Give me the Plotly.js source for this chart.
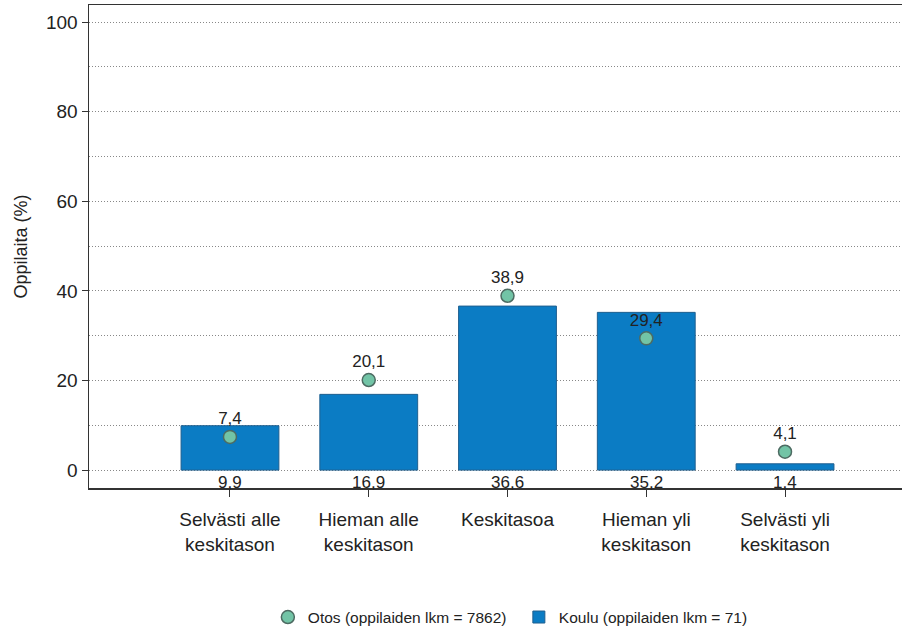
<!DOCTYPE html>
<html>
<head>
<meta charset="utf-8">
<script src="https://cdn.plot.ly/plotly-3.0.1.min.js"></script>
<style>html,body{margin:0;padding:0;background:#fff;}#chart{width:902px;height:630px;}</style>
</head>
<body>
<div id="chart"></div>
<script>
const categories = ["Selvästi alle<br>keskitason", "Hieman alle<br>keskitason", "Keskitasoa", "Hieman yli<br>keskitason", "Selvästi yli<br>keskitason"];
const kouluValues = [9.9, 16.9, 36.6, 35.2, 1.4];
const otosValues = [7.4, 20.1, 38.9, 29.4, 4.1];
const yTickVals = [0, 20, 40, 60, 80, 100];
const otosName = "Otos (oppilaiden lkm = 7862)";
const kouluName = "Koulu (oppilaiden lkm = 71)";

const fmt = v => v.toFixed(1).replace('.', ',');
const xIdx = categories.map((c, i) => i);

const font = "Liberation Sans, Arial, sans-serif";

const traces = [
  {
    type: 'scatter', mode: 'markers', name: otosName,
    x: xIdx, y: otosValues,
    marker: {symbol: 'circle', size: 13, color: '#72c4a6', line: {color: '#4d6b62', width: 1.5}},
    hoverinfo: 'skip'
  },
  {
    type: 'bar', name: kouluName,
    x: xIdx, y: kouluValues, width: 0.705,
    marker: {color: '#0b7cc4', line: {color: '#1f5f8f', width: 1}},
    hoverinfo: 'skip'
  },
  {
    type: 'scatter', mode: 'markers+text', showlegend: false,
    x: xIdx, y: otosValues, text: otosValues.map(fmt),
    marker: {size: 12, color: 'rgba(0,0,0,0)'},
    textposition: 'top center',
    textfont: {family: font, size: 17, color: '#222'},
    hoverinfo: 'skip'
  }
];

const annotations = kouluValues.map((v, i) => ({
  x: i, y: 0, xref: 'x', yref: 'y', yanchor: 'top', xanchor: 'center',
  text: fmt(v), showarrow: false, yshift: -1,
  font: {family: font, size: 17, color: '#222'}
}));

const layout = {
  width: 902, height: 630,
  margin: {l: 89, r: 0, t: 5, b: 142, autoexpand: false},
  paper_bgcolor: '#fff', plot_bgcolor: '#fff',
  font: {family: font, color: '#222'},
  showlegend: true,
  legend: {orientation: 'h', x: 0.22, xanchor: 'left', y: -0.268, yanchor: 'middle',
           entrywidth: 206, entrywidthmode: 'pixels',
           font: {family: font, size: 15.5, color: '#222'}, itemwidth: 20, traceorder: 'normal'},
  xaxis: {
    range: [-1.016, 4.843],
    tickmode: 'array', tickvals: xIdx, ticktext: categories,
    showline: true, linecolor: '#333', linewidth: 1.5, mirror: true,
    ticks: 'outside', ticklen: 7, tickcolor: '#333',
    showgrid: false, zeroline: false,
    ticklabelstandoff: 7,
    tickfont: {family: font, size: 19, color: '#222'}
  },
  yaxis: {
    range: [-4.0, 103.8],
    tickmode: 'array', tickvals: yTickVals,
    showline: true, linecolor: '#333', linewidth: 1.5,
    ticks: 'outside', ticklen: 6, tickcolor: '#333',
    showgrid: true, gridcolor: '#888', griddash: '1px,2px', gridwidth: 1,
    minor: {dtick: 10, tick0: 0, showgrid: true, gridcolor: '#888', griddash: '1px,2px', gridwidth: 1, ticks: ''},
    zeroline: false,
    tickfont: {family: font, size: 19, color: '#222'},
    title: {text: 'Oppilaita (%)', font: {family: font, size: 18, color: '#222'}, standoff: 13}
  },
  annotations: annotations
};

Plotly.newPlot('chart', traces, layout, {staticPlot: true, displayModeBar: false});
</script>
</body>
</html>
